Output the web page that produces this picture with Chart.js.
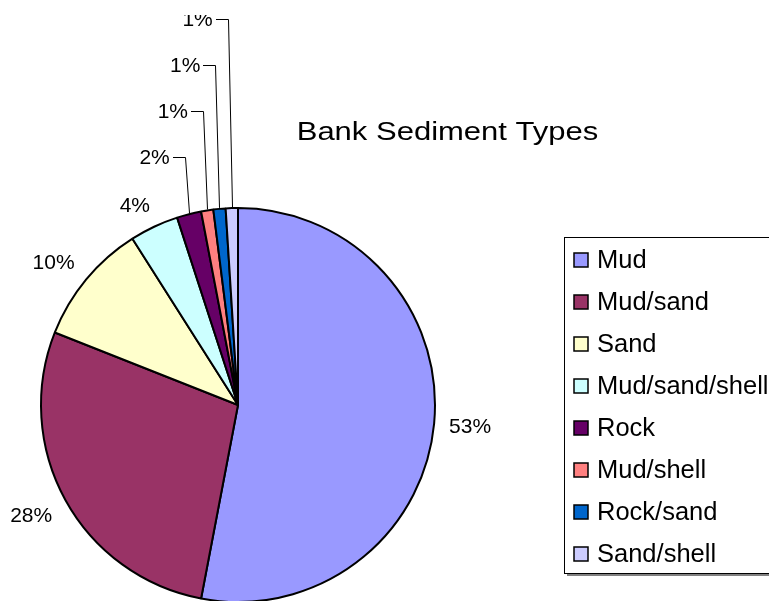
<!DOCTYPE html>
<html>
<head>
<meta charset="utf-8">
<script src="https://cdn.jsdelivr.net/npm/chart.js@4"></script>
<style>
    html, body { margin: 0; padding: 0; background: #fff; overflow: hidden; }
    canvas { display: block; }
</style>
</head>
<body>
<canvas id="sedimentChart" width="769" height="620"></canvas>

<script>
    // Sediment share per type (percent)
    const sedimentTypes = ['Mud', 'Mud/sand', 'Sand', 'Mud/sand/shell', 'Rock', 'Mud/shell', 'Rock/sand', 'Sand/shell'];
    const sedimentShare = [53, 28, 10, 4, 2, 1, 1, 1];
    const sliceColors = ['#9999FF', '#993366', '#FFFFCC', '#CCFFFF', '#660066', '#FF8080', '#0066CC', '#CCCCFF'];
    const chartTitle = 'Bank Sediment Types';

    const FONT = '"Liberation Sans", Arial, sans-serif';

    // Percent labels: outside the pie, small slices get a leader line
    const sliceLabels = {
        id: 'sliceLabels',
        afterDatasetsDraw(chart) {
            const ctx = chart.ctx;
            const meta = chart.getDatasetMeta(0);
            const values = chart.data.datasets[0].data;
            const total = values.reduce((a, b) => a + b, 0);
            const clamp = v => Math.max(-1, Math.min(1, v * 2));
            const gap = 14;          // distance of labels from the rim
            const leaderTop = 157;   // first stacked label
            const leaderStep = 46;   // spacing between stacked labels
            let stacked = 0;

            ctx.save();
            ctx.beginPath();
            ctx.rect(0, 15, chart.width, chart.height); // chart frame cuts the top label
            ctx.clip();
            ctx.font = '21px ' + FONT;
            ctx.fillStyle = '#000';
            ctx.strokeStyle = '#000';
            ctx.lineWidth = 1;

            meta.data.forEach((arc, i) => {
                const p = arc.getProps(['x', 'y', 'startAngle', 'endAngle', 'outerRadius'], true);
                const mid = (p.startAngle + p.endAngle) / 2;
                const dx = Math.cos(mid), dy = Math.sin(mid);
                const r = p.outerRadius + 1;
                const share = values[i] / total;
                const text = Math.round(share * 100) + '%';
                const w = ctx.measureText(text).width;

                if (share >= 0.03) {
                    const cx = p.x + dx * (r + gap) + clamp(dx) * w / 2;
                    const cy = p.y + dy * (r + gap) + clamp(dy) * 8;
                    ctx.textAlign = 'center';
                    ctx.textBaseline = 'middle';
                    ctx.fillText(text, cx, cy + 1);
                } else {
                    const ex = p.x + dx * r, ey = p.y + dy * r;
                    const kx = ex - 4, ky = leaderTop - stacked * leaderStep;
                    ctx.beginPath();
                    ctx.moveTo(Math.round(ex) + 0.5, ey);
                    ctx.lineTo(Math.round(kx) + 0.5, Math.round(ky) + 0.5);
                    ctx.lineTo(Math.round(kx) - 12, Math.round(ky) + 0.5);
                    ctx.stroke();
                    ctx.textAlign = 'right';
                    ctx.textBaseline = 'middle';
                    ctx.fillText(text, kx - 15, ky + 1);
                    stacked++;
                }
            });
            ctx.restore();
        }
    };

    // Title and boxed legend on the right
    const titleAndLegend = {
        id: 'titleAndLegend',
        afterDraw(chart) {
            const ctx = chart.ctx;
            const ds = chart.data.datasets[0];

            ctx.save();
            ctx.fillStyle = '#000';
            ctx.font = '26.5px ' + FONT;
            ctx.textAlign = 'center';
            ctx.textBaseline = 'alphabetic';
            ctx.translate(447.5, 140);
            ctx.scale(1.17, 1);
            ctx.fillText(chartTitle, 0, 0);
            ctx.restore();

            const box = { x: 564, y: 237, w: 230, h: 336 };
            ctx.save();
            ctx.fillStyle = '#808080';
            ctx.fillRect(box.x + 3, box.y + 3, box.w, box.h);  // shadow
            ctx.fillStyle = '#fff';
            ctx.fillRect(box.x, box.y, box.w, box.h);
            ctx.strokeStyle = '#000';
            ctx.lineWidth = 1;
            ctx.strokeRect(box.x + 0.5, box.y + 0.5, box.w, box.h);

            ctx.font = '25.5px ' + FONT;
            ctx.textAlign = 'left';
            ctx.textBaseline = 'middle';
            chart.data.labels.forEach((label, i) => {
                const cy = 260 + i * 42;
                ctx.fillStyle = ds.backgroundColor[i];
                ctx.fillRect(574, cy - 7, 14, 14);
                ctx.lineWidth = 1.5;
                ctx.strokeStyle = '#000';
                ctx.strokeRect(574, cy - 7, 14, 14);
                ctx.fillStyle = '#000';
                ctx.fillText(label, 597, cy + 1);
            });
            ctx.restore();
        }
    };

    const ctx = document.getElementById('sedimentChart').getContext('2d');
    new Chart(ctx, {
        type: 'pie',
        data: {
            labels: sedimentTypes,
            datasets: [{
                data: sedimentShare,
                backgroundColor: sliceColors,
                borderColor: '#000',
                borderWidth: 2
            }]
        },
        options: {
            responsive: false,
            animation: false,
            layout: {
                padding: { left: 40, top: 207, right: 333, bottom: 17 } // pie centred at 238,405
            },
            plugins: {
                legend: { display: false },
                title: { display: false },
                tooltip: { enabled: false }
            }
        },
        plugins: [sliceLabels, titleAndLegend]
    });
</script>
</body>
</html>
